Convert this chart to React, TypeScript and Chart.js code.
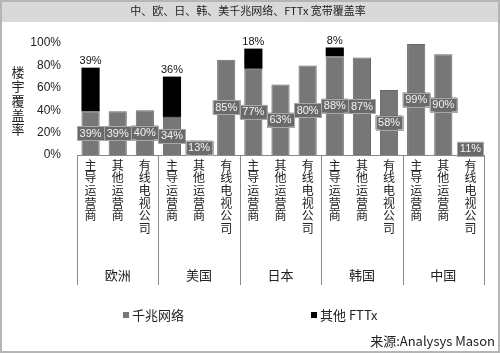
import React, { useEffect, useRef } from 'react';
import { Chart, registerables } from 'chart.js';

Chart.register(...registerables);

const titleText = '中、欧、日、韩、美千兆网络、FTTx 宽带覆盖率';
const yTitle = ['楼', '宇', '覆', '盖', '率'];
const regions = ['欧洲', '美国', '日本', '韩国', '中国'];
const operators = ['主导运营商', '其他运营商', '有线电视公司'];
const categoryLabels = regions.flatMap(() => operators.map((o) => o.split('')));
const gigabit = [39, 39, 40, 34, 13, 85, 77, 63, 80, 88, 87, 58, 99, 90, 11];
const otherFttx = [39, null, null, 36, null, null, 18, null, null, 8, null, null, null, null, null];
const seriesNames = ['千兆网络', '其他 FTTx'];
const sourceText = '来源:Analysys Mason';

const LATIN = '"Liberation Sans", "Noto Sans CJK SC", sans-serif';
const CJK = '"Noto Sans CJK SC", "Liberation Sans", sans-serif';
const GREY = '#777777';

const decorPlugin = {
  id: 'decor',
  beforeDraw(chart: any) {
    const { ctx, width, height } = chart;
    ctx.save();
    ctx.fillStyle = '#ffffff';
    ctx.fillRect(0, 0, width, height);
    ctx.fillStyle = '#d9d9d9';
    ctx.fillRect(0, 0, width, 22);
    ctx.strokeStyle = '#b5b5b5';
    ctx.lineWidth = 2;
    ctx.strokeRect(1, 1, width - 2, height - 2);
    ctx.fillStyle = '#222';
    ctx.font = `11px ${CJK}`;
    ctx.textAlign = 'center';
    ctx.textBaseline = 'middle';
    ctx.fillText(titleText, 248, 11);
    ctx.restore();
  },
  afterDatasetsDraw(chart: any) {
    const { ctx } = chart;
    ctx.save();
    const m0 = chart.getDatasetMeta(0);
    m0.data.forEach((el: any, i: number) => {
      const v = gigabit[i];
      if (v == null) return;
      const cy = (el.y + el.base) / 2;
      ctx.font = `11px ${LATIN}`;
      const t = `${v}%`;
      const w = ctx.measureText(t).width + 5;
      const h = 14;
      ctx.fillStyle = '#6a6a6a';
      ctx.fillRect(el.x - w / 2, cy - h / 2, w, h);
      ctx.strokeStyle = '#a8a8a8';
      ctx.lineWidth = 1;
      ctx.strokeRect(Math.round(el.x - w / 2) + 0.5, Math.round(cy - h / 2) + 0.5, Math.round(w), h);
      ctx.fillStyle = '#f4f4f4';
      ctx.textAlign = 'center';
      ctx.textBaseline = 'middle';
      ctx.fillText(t, el.x, cy + 0.5);
    });
    const m1 = chart.getDatasetMeta(1);
    m1.data.forEach((el: any, i: number) => {
      const v = otherFttx[i];
      if (v == null) return;
      ctx.font = `11px ${LATIN}`;
      ctx.fillStyle = '#111';
      ctx.textAlign = 'center';
      ctx.textBaseline = 'middle';
      ctx.fillText(`${v}%`, el.x, el.y - 7);
    });
    ctx.restore();
  },
  afterDraw(chart: any) {
    const { ctx } = chart;
    const xs = chart.scales.x;
    ctx.save();
    // y title
    ctx.fillStyle = '#222';
    ctx.font = `13px ${CJK}`;
    ctx.textAlign = 'center';
    ctx.textBaseline = 'middle';
    yTitle.forEach((c, i) => ctx.fillText(c, 18, 72 + i * 14.3));
    // group separators
    ctx.strokeStyle = '#888';
    ctx.lineWidth = 1;
    const n = categoryLabels.length;
    const catW = (xs.right - xs.left) / n;
    for (let k = 0; k <= regions.length; k++) {
      const px = Math.round(xs.getPixelForValue(k * 3) - catW / 2) + 0.5;
      ctx.beginPath();
      ctx.moveTo(px, xs.top);
      ctx.lineTo(px, 285);
      ctx.stroke();
    }
    // group labels
    ctx.font = `13px ${CJK}`;
    ctx.fillStyle = '#222';
    regions.forEach((r, k) => {
      ctx.fillText(r, xs.getPixelForValue(k * 3 + 1), 275);
    });
    // legend
    const legendItems = [
      { x: 123, color: GREY, text: seriesNames[0] },
      { x: 311, color: '#000', text: seriesNames[1] },
    ];
    ctx.textAlign = 'left';
    legendItems.forEach((it) => {
      ctx.fillStyle = it.color;
      ctx.fillRect(it.x, 312, 6, 6);
      ctx.fillStyle = '#222';
      ctx.font = `13px ${CJK}`;
      ctx.fillText(it.text, it.x + 9, 315);
    });
    // source
    ctx.textAlign = 'right';
    ctx.font = `13px ${CJK}`;
    ctx.fillStyle = '#222';
    ctx.fillText(sourceText, 495, 341);
    ctx.restore();
  },
};

export default function App() {
  const ref = useRef<HTMLCanvasElement>(null);
  useEffect(() => {
    if (!ref.current) return;
    const chart = new Chart(ref.current, {
      type: 'bar',
      data: {
        labels: categoryLabels,
        datasets: [
          {
            label: seriesNames[0],
            data: gigabit,
            backgroundColor: GREY,
            borderColor: '#666',
            borderWidth: 1,
            barPercentage: 0.67,
            categoryPercentage: 1,
          },
          {
            label: seriesNames[1],
            data: otherFttx,
            backgroundColor: '#000',
            borderColor: '#000',
            borderWidth: 0,
            barPercentage: 0.67,
            categoryPercentage: 1,
          },
        ],
      },
      options: {
        responsive: false,
        animation: false,
        devicePixelRatio: 1,
        layout: { padding: { left: 0, right: 16, top: 43, bottom: 68 } },
        plugins: {
          legend: { display: false },
          title: { display: false },
          tooltip: { enabled: false },
        },
        scales: {
          x: {
            stacked: true,
            grid: { display: false, drawTicks: false },
            border: { display: true, color: '#888', width: 1 },
            ticks: {
              autoSkip: false,
              maxRotation: 0,
              minRotation: 0,
              padding: 4,
              color: '#222',
              font: { family: CJK, size: 12, lineHeight: 1.05 },
            },
            afterFit: (s: any) => {
              s.height = 130;
            },
          },
          y: {
            stacked: true,
            min: 0,
            max: 100,
            grid: { display: false, drawTicks: false },
            border: { display: false },
            ticks: {
              stepSize: 20,
              padding: 16,
              color: '#222',
              font: { family: LATIN, size: 12 },
              callback: (v: any) => `${v}%`,
            },
            afterFit: (s: any) => {
              s.width = 77;
            },
          },
        },
      },
      plugins: [decorPlugin],
    });
    return () => chart.destroy();
  }, []);
  return (
    <div style={{ position: 'absolute', left: 0, top: 0, width: 500, height: 353 }}>
      <canvas ref={ref} width={500} height={353} />
    </div>
  );
}
